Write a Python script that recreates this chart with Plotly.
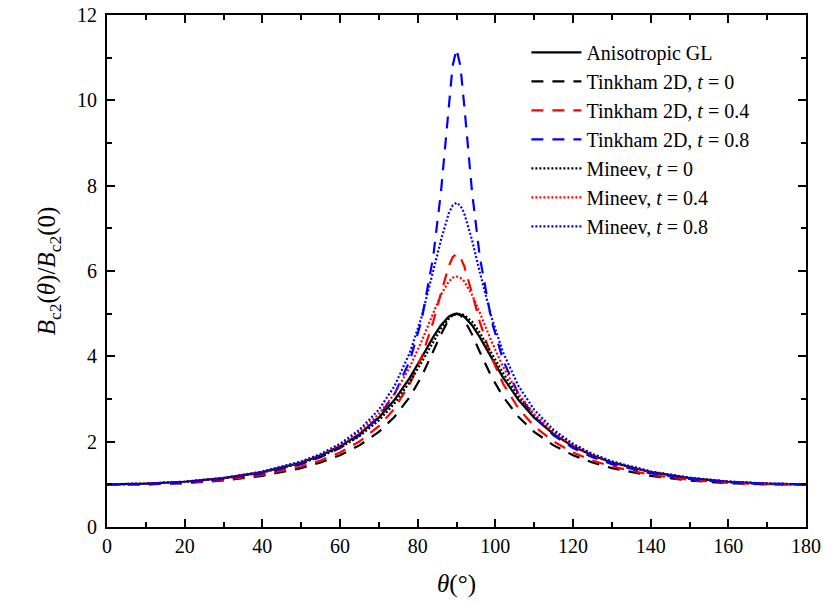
import plotly.graph_objects as go

theta = [0, 10, 20, 30, 40, 50, 55, 60, 65, 70, 74, 78, 81, 84, 86, 88, 89, 90,
         91, 92, 94, 96, 99, 102, 106, 110, 115, 120, 125, 130, 140, 150, 160, 170, 180]

aniso_gl = [1.0, 1.015, 1.061, 1.147, 1.287, 1.513, 1.676, 1.890, 2.175, 2.562, 2.976, 3.503, 3.969, 4.450, 4.731, 4.929, 4.982, 5.0,
            4.982, 4.929, 4.731, 4.450, 3.969, 3.503, 2.976, 2.562, 2.175, 1.890, 1.676, 1.513, 1.287, 1.147, 1.061, 1.015, 1.0]

tinkham_t0 = [1.0, 0.998, 1.026, 1.090, 1.200, 1.381, 1.512, 1.683, 1.913, 2.229, 2.577, 3.053, 3.524, 4.103, 4.515, 4.859, 4.964, 5.0,
              4.964, 4.859, 4.515, 4.103, 3.524, 3.053, 2.577, 2.229, 1.913, 1.683, 1.512, 1.381, 1.200, 1.090, 1.026, 0.998, 1.0]

tinkham_t04 = [1.0, 1.002, 1.034, 1.104, 1.223, 1.418, 1.560, 1.748, 2.003, 2.363, 2.772, 3.357, 3.975, 4.809, 5.479, 6.112, 6.322, 6.4,
               6.322, 6.112, 5.479, 4.809, 3.975, 3.357, 2.772, 2.363, 2.003, 1.748, 1.560, 1.418, 1.223, 1.104, 1.034, 1.002, 1.0]

tinkham_t08 = [1.0, 1.007, 1.047, 1.125, 1.257, 1.475, 1.636, 1.851, 2.150, 2.587, 3.107, 3.904, 4.840, 6.331, 7.856, 9.875, 10.808, 11.2,
               10.808, 9.875, 7.856, 6.331, 4.840, 3.904, 3.107, 2.587, 2.150, 1.851, 1.636, 1.475, 1.257, 1.125, 1.047, 1.007, 1.0]

mineev_t0 = [1.0, 1.013, 1.057, 1.139, 1.275, 1.492, 1.650, 1.856, 2.128, 2.497, 2.892, 3.401, 3.858, 4.344, 4.647, 4.880, 4.957, 4.988,
             4.995, 4.966, 4.815, 4.556, 4.079, 3.604, 3.056, 2.628, 2.222, 1.924, 1.703, 1.534, 1.300, 1.155, 1.065, 1.017, 1.0]

mineev_t04 = [1.0, 1.015, 1.062, 1.149, 1.292, 1.525, 1.694, 1.918, 2.223, 2.648, 3.119, 3.753, 4.353, 5.023, 5.444, 5.754, 5.840, 5.87,
              5.840, 5.754, 5.444, 5.023, 4.353, 3.753, 3.119, 2.648, 2.223, 1.918, 1.694, 1.525, 1.292, 1.149, 1.062, 1.015, 1.0]

mineev_t08 = [1.0, 1.015, 1.063, 1.151, 1.298, 1.537, 1.713, 1.950, 2.277, 2.750, 3.298, 4.090, 4.917, 5.971, 6.727, 7.350, 7.535, 7.6,
              7.535, 7.350, 6.727, 5.971, 4.917, 4.090, 3.298, 2.750, 2.277, 1.950, 1.713, 1.537, 1.298, 1.151, 1.063, 1.015, 1.0]

series = [
    ("Anisotropic GL", aniso_gl, "black", "solid"),
    ("Tinkham 2D, <i>t</i> = 0", tinkham_t0, "black", "12px,9px"),
    ("Tinkham 2D, <i>t</i> = 0.4", tinkham_t04, "red", "12px,9px"),
    ("Tinkham 2D, <i>t</i> = 0.8", tinkham_t08, "blue", "12px,9px"),
    ("Mineev, <i>t</i> = 0", mineev_t0, "black", "2px,2px"),
    ("Mineev, <i>t</i> = 0.4", mineev_t04, "red", "2px,2px"),
    ("Mineev, <i>t</i> = 0.8", mineev_t08, "blue", "2px,2px"),
]

fig = go.Figure()
for name, y, color, dash in series:
    fig.add_trace(go.Scatter(x=theta, y=y, mode="lines", name=name,
                             line=dict(color=color, dash=dash, width=2.2)))

font_family = "'Times New Roman', 'Liberation Serif', 'DejaVu Serif', serif"
axis_common = dict(
    showgrid=False, zeroline=False, showline=True, linecolor="black", linewidth=2,
    mirror="allticks", ticks="inside", ticklen=8, tickwidth=2, tickcolor="black",
    tickfont=dict(family=font_family, size=20, color="black"),
    automargin=False,
)

fig.update_xaxes(range=[0, 180], dtick=20, tick0=0,
                 minor=dict(dtick=10, ticks="inside", ticklen=5, tickwidth=2, tickcolor="black"),
                 title=dict(text="<i>θ</i>(°)", font=dict(family=font_family, size=25, color="black"), standoff=18),
                 **axis_common)
fig.update_yaxes(range=[0, 12], dtick=2, tick0=0,
                 minor=dict(dtick=1, ticks="inside", ticklen=5, tickwidth=2, tickcolor="black"),
                 title=dict(text="<i>B</i><sub>c2</sub>(<i>θ</i>)/<i>B</i><sub>c2</sub>(0)",
                            font=dict(family=font_family, size=25, color="black"), standoff=14),
                 ticklabelstandoff=4,
                 **axis_common)

fig.update_layout(
    width=826, height=610,
    margin=dict(l=107, r=20, t=15, b=83),
    plot_bgcolor="white", paper_bgcolor="white",
    font=dict(family=font_family, color="black"),
    legend=dict(x=0.6, y=0.965, xanchor="left", yanchor="top",
                font=dict(family=font_family, size=20, color="black"),
                bgcolor="rgba(0,0,0,0)", tracegroupgap=0, itemwidth=50),
    showlegend=True,
)

fig.write_html("out.html")
